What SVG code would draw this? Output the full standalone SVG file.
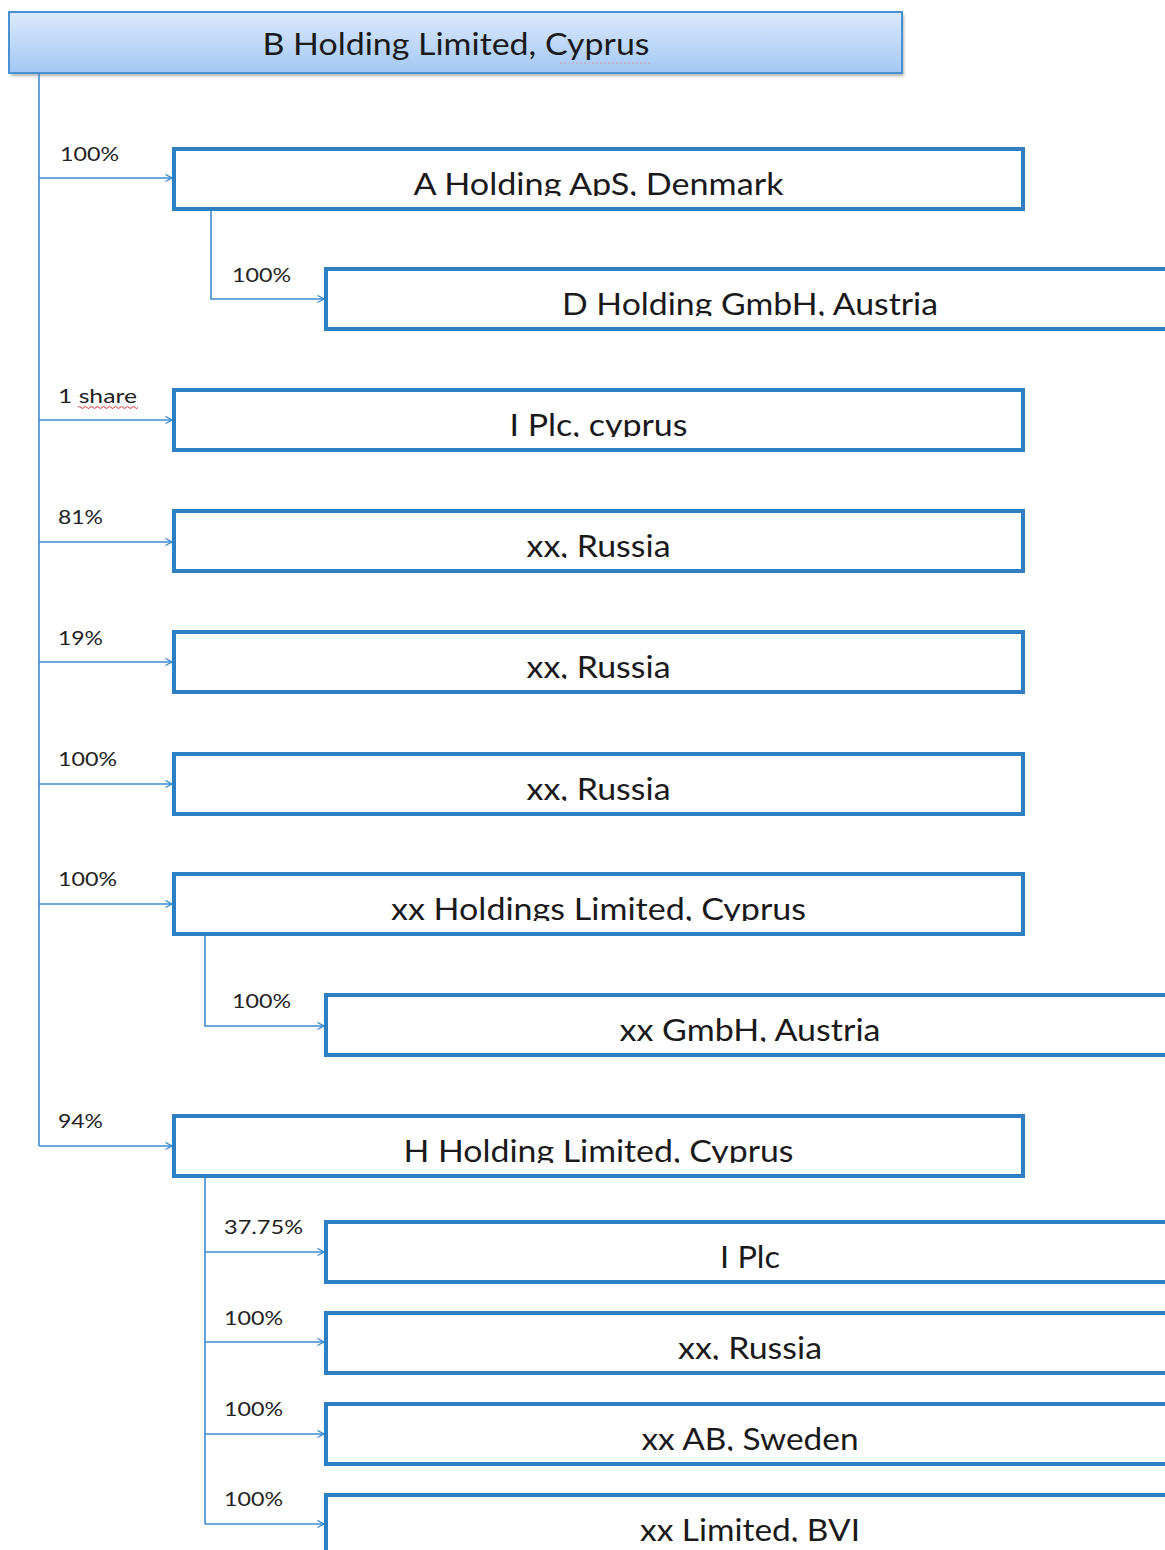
<svg xmlns="http://www.w3.org/2000/svg" width="1165" height="1550" viewBox="0 0 1165 1550">
  <defs>
    <linearGradient id="topGrad" x1="0" y1="0" x2="0" y2="1">
      <stop offset="0" stop-color="#dce9fb"/>
      <stop offset="1" stop-color="#a3c8f4"/>
    </linearGradient>
    <filter id="shadow" x="-5%" y="-30%" width="110%" height="160%">
      <feGaussianBlur stdDeviation="1.5"/>
    </filter>
    <marker id="arrow" markerWidth="10" markerHeight="10" refX="7" refY="4" orient="auto" markerUnits="userSpaceOnUse">
      <path d="M0.5,0.5 L7,4 L0.5,7.5" fill="none" stroke="#3b8bd0" stroke-width="1.4"/>
    </marker>
    <clipPath id="clipTxt">
      <rect x="0" y="0" width="849" height="47"/>
    </clipPath>
    <style>
      .box { fill: #ffffff; stroke: #2e7ec3; stroke-width: 4; }
      .name { font-family: Lato, "Open Sans", "Liberation Sans", sans-serif; font-size: 30px; fill: #1a1a1a; text-anchor: middle; }
      .lbl { font-family: Lato, "Open Sans", "Liberation Sans", sans-serif; font-size: 19px; fill: #222222; }
      .conn { fill: none; stroke: #3b8bd0; stroke-width: 1.6; }
    </style>
  </defs>

  <rect width="1165" height="1550" fill="#ffffff"/>

  <!-- Top node -->
  <g id="node-b-holding">
    <rect x="11" y="15" width="893" height="61" fill="#7f7f7f" opacity="0.6" filter="url(#shadow)"/>
    <rect x="9" y="12" width="893" height="61" fill="url(#topGrad)" stroke="#4a90d4" stroke-width="2"/>
    <text class="name" x="456" y="55" textLength="387" lengthAdjust="spacingAndGlyphs">B Holding Limited, Cyprus</text>
    <path d="M560,63 L650,63" stroke="#e07a7a" stroke-width="1" stroke-dasharray="2,2" opacity="0.6"/>
  </g>

  <!-- Connectors -->
  <g id="connectors">
    <path class="conn" d="M39,73 L39,1146"/>
    <path class="conn" d="M39,178 L172,178" marker-end="url(#arrow)"/>
    <path class="conn" d="M211,209 L211,299 L324,299" marker-end="url(#arrow)"/>
    <path class="conn" d="M39,420 L172,420" marker-end="url(#arrow)"/>
    <path class="conn" d="M39,542 L172,542" marker-end="url(#arrow)"/>
    <path class="conn" d="M39,662 L172,662" marker-end="url(#arrow)"/>
    <path class="conn" d="M39,784 L172,784" marker-end="url(#arrow)"/>
    <path class="conn" d="M39,904 L172,904" marker-end="url(#arrow)"/>
    <path class="conn" d="M205,935 L205,1026 L324,1026" marker-end="url(#arrow)"/>
    <path class="conn" d="M39,1146 L172,1146" marker-end="url(#arrow)"/>
    <path class="conn" d="M205,1177 L205,1524"/>
    <path class="conn" d="M205,1252 L324,1252" marker-end="url(#arrow)"/>
    <path class="conn" d="M205,1342 L324,1342" marker-end="url(#arrow)"/>
    <path class="conn" d="M205,1434 L324,1434" marker-end="url(#arrow)"/>
    <path class="conn" d="M205,1524 L324,1524" marker-end="url(#arrow)"/>

    <text class="lbl" x="60" y="161" textLength="59" lengthAdjust="spacingAndGlyphs">100%</text>
    <text class="lbl" x="232" y="282" textLength="59" lengthAdjust="spacingAndGlyphs">100%</text>
    <text class="lbl" x="58" y="403" textLength="79" lengthAdjust="spacingAndGlyphs">1 share</text>
    <path d="M78,407.5 q1.5,-2 3,0 t3,0 t3,0 t3,0 t3,0 t3,0 t3,0 t3,0 t3,0 t3,0 t3,0 t3,0 t3,0 t3,0 t3,0 t3,0 t3,0 t3,0 t3,0 t3,0" fill="none" stroke="#e03030" stroke-width="1"/>
    <text class="lbl" x="58" y="524" textLength="45" lengthAdjust="spacingAndGlyphs">81%</text>
    <text class="lbl" x="58" y="645" textLength="45" lengthAdjust="spacingAndGlyphs">19%</text>
    <text class="lbl" x="58" y="766" textLength="59" lengthAdjust="spacingAndGlyphs">100%</text>
    <text class="lbl" x="58" y="886" textLength="59" lengthAdjust="spacingAndGlyphs">100%</text>
    <text class="lbl" x="232" y="1008" textLength="59" lengthAdjust="spacingAndGlyphs">100%</text>
    <text class="lbl" x="58" y="1128" textLength="45" lengthAdjust="spacingAndGlyphs">94%</text>
    <text class="lbl" x="224" y="1234" textLength="79" lengthAdjust="spacingAndGlyphs">37.75%</text>
    <text class="lbl" x="224" y="1325" textLength="59" lengthAdjust="spacingAndGlyphs">100%</text>
    <text class="lbl" x="224" y="1416" textLength="59" lengthAdjust="spacingAndGlyphs">100%</text>
    <text class="lbl" x="224" y="1506" textLength="59" lengthAdjust="spacingAndGlyphs">100%</text>
  </g>

  <!-- Level 1 nodes -->
  <g id="node-a-holding" transform="translate(174,149)">
    <rect class="box" width="849" height="60"/>
    <text class="name" x="424.5" y="46" textLength="370" lengthAdjust="spacingAndGlyphs" clip-path="url(#clipTxt)">A Holding ApS, Denmark</text>
  </g>
  <g id="node-d-holding" transform="translate(326,269)">
    <rect class="box" width="848" height="60"/>
    <text class="name" x="424" y="46" textLength="376" lengthAdjust="spacingAndGlyphs" clip-path="url(#clipTxt)">D Holding GmbH, Austria</text>
  </g>
  <g id="node-i-plc-cyprus" transform="translate(174,390)">
    <rect class="box" width="849" height="60"/>
    <text class="name" x="424.5" y="46" textLength="178" lengthAdjust="spacingAndGlyphs" clip-path="url(#clipTxt)">I Plc, cyprus</text>
  </g>
  <g id="node-xx-russia-1" transform="translate(174,511)">
    <rect class="box" width="849" height="60"/>
    <text class="name" x="424.5" y="46" textLength="144" lengthAdjust="spacingAndGlyphs" clip-path="url(#clipTxt)">xx, Russia</text>
  </g>
  <g id="node-xx-russia-2" transform="translate(174,632)">
    <rect class="box" width="849" height="60"/>
    <text class="name" x="424.5" y="46" textLength="144" lengthAdjust="spacingAndGlyphs" clip-path="url(#clipTxt)">xx, Russia</text>
  </g>
  <g id="node-xx-russia-3" transform="translate(174,754)">
    <rect class="box" width="849" height="60"/>
    <text class="name" x="424.5" y="46" textLength="144" lengthAdjust="spacingAndGlyphs" clip-path="url(#clipTxt)">xx, Russia</text>
  </g>
  <g id="node-xx-holdings" transform="translate(174,874)">
    <rect class="box" width="849" height="60"/>
    <text class="name" x="424.5" y="46" textLength="415" lengthAdjust="spacingAndGlyphs" clip-path="url(#clipTxt)">xx Holdings Limited, Cyprus</text>
  </g>
  <g id="node-xx-gmbh" transform="translate(326,995)">
    <rect class="box" width="848" height="60"/>
    <text class="name" x="424" y="46" textLength="261" lengthAdjust="spacingAndGlyphs" clip-path="url(#clipTxt)">xx GmbH, Austria</text>
  </g>
  <g id="node-h-holding" transform="translate(174,1116)">
    <rect class="box" width="849" height="60"/>
    <text class="name" x="424.5" y="46" textLength="390" lengthAdjust="spacingAndGlyphs" clip-path="url(#clipTxt)">H Holding Limited, Cyprus</text>
  </g>

  <!-- Level 2 under H Holding -->
  <g id="node-i-plc" transform="translate(326,1222)">
    <rect class="box" width="848" height="60"/>
    <text class="name" x="424" y="46" textLength="60" lengthAdjust="spacingAndGlyphs" clip-path="url(#clipTxt)">I Plc</text>
  </g>
  <g id="node-xx-russia-4" transform="translate(326,1313)">
    <rect class="box" width="848" height="60"/>
    <text class="name" x="424" y="46" textLength="144" lengthAdjust="spacingAndGlyphs" clip-path="url(#clipTxt)">xx, Russia</text>
  </g>
  <g id="node-xx-ab" transform="translate(326,1404)">
    <rect class="box" width="848" height="60"/>
    <text class="name" x="424" y="46" textLength="217" lengthAdjust="spacingAndGlyphs" clip-path="url(#clipTxt)">xx AB, Sweden</text>
  </g>
  <g id="node-xx-limited-bvi" transform="translate(326,1495)">
    <rect class="box" width="848" height="60"/>
    <text class="name" x="424" y="46" textLength="220" lengthAdjust="spacingAndGlyphs" clip-path="url(#clipTxt)">xx Limited, BVI</text>
  </g>
</svg>
